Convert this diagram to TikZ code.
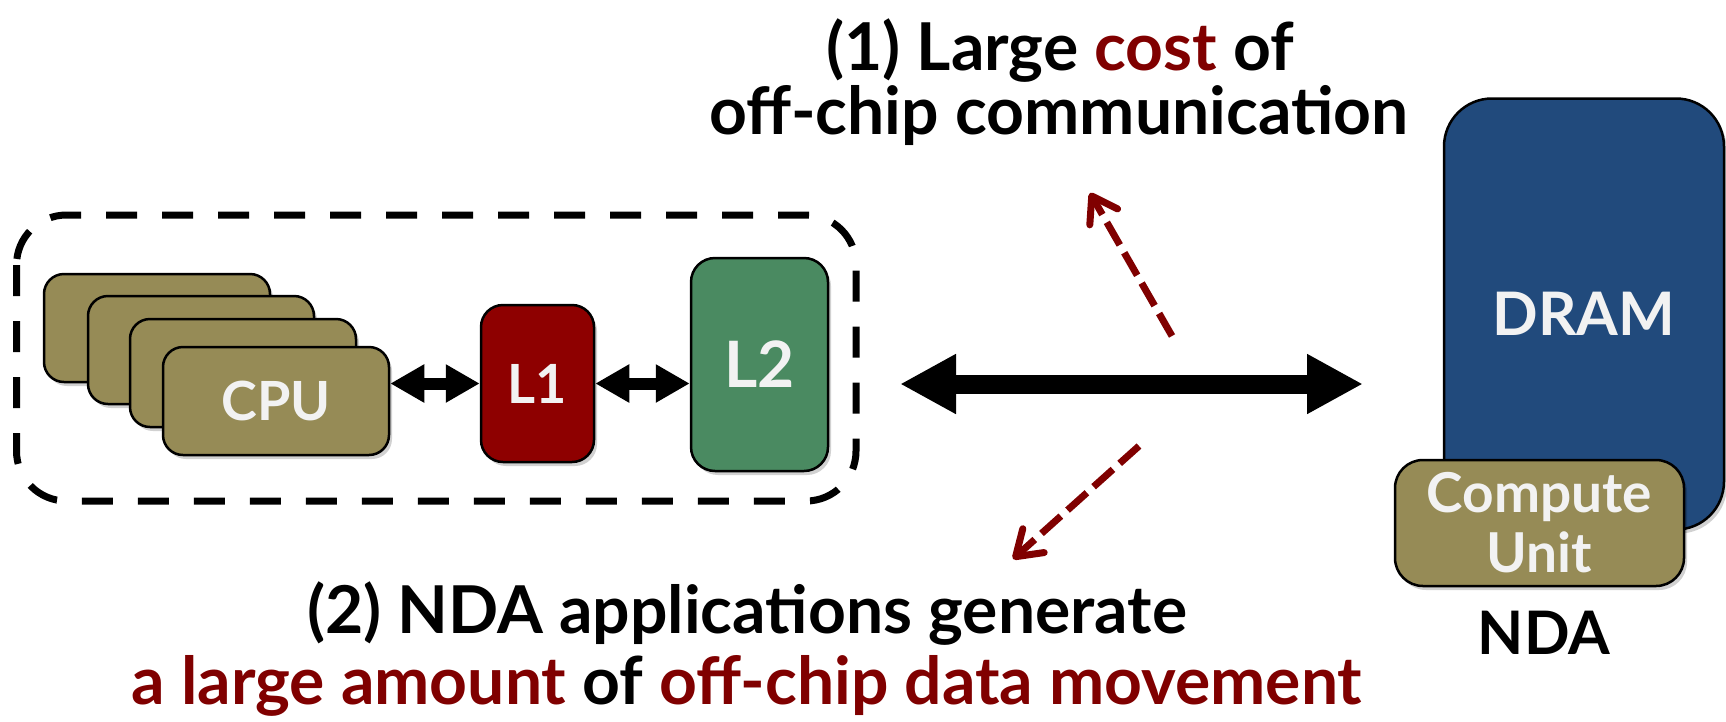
\documentclass[tikz,border=0pt]{standalone}
\usepackage{fontspec}
\setmainfont{Lato}
\usetikzlibrary{arrows.meta,shadows}
\definecolor{dred}{RGB}{128,0,0}
\definecolor{lonered}{RGB}{142,0,0}
\definecolor{ltwogreen}{RGB}{74,138,97}
\definecolor{olivebox}{RGB}{150,139,86}
\definecolor{dramblue}{RGB}{33,74,124}
\definecolor{offwhite}{RGB}{242,242,242}
\begin{document}
\begin{tikzpicture}[x=1pt,y=-1pt,
  shadowed/.style={drop shadow={shadow xshift=3pt,shadow yshift=-4pt,opacity=0.18,fill=black}},
  unit/.style={draw=black,line width=2.5pt,shadowed,inner sep=0pt,text=offwhite},
  cpubox/.style={unit,fill=olivebox,minimum width=226pt,minimum height=108pt,rounded corners=20pt},
  boxfont/.style={font=\bfseries\fontsize{54}{60}\selectfont},
  textline/.style={font=\bfseries\fontsize{66}{72}\selectfont,anchor=base,inner sep=0pt},
  smallarrow/.style={line width=12pt,{Triangle[length=34pt,width=36pt]}-{Triangle[length=34pt,width=36pt]}},
  bigarrow/.style={line width=19pt,{Triangle[length=56pt,width=56pt]}-{Triangle[length=56pt,width=56pt]}},
  hint/.style={draw=dred,line width=7pt,dash pattern=on 26pt off 9pt,-{Straight Barb[length=24pt,width=32pt,round]}}
]
\useasboundingbox (0,0) rectangle (1726,721);

% grouping frame
\draw[line width=7pt,dash pattern=on 31pt off 25pt,rounded corners=50pt] (16.5,215) rectangle (856,501);

% CPU stack
\node[cpubox] (cpu1) at (157,328) {};
\node[cpubox] (cpu2) at (201,350) {};
\node[cpubox] (cpu3) at (243,373) {};
\node[cpubox,boxfont] (cpu4) at (276,401) {CPU};

% caches
\node[unit,fill=lonered,minimum width=113pt,minimum height=157pt,rounded corners=22pt,boxfont] (l1) at (537.5,383.5) {L1};
\node[unit,fill=ltwogreen,minimum width=137pt,minimum height=213pt,rounded corners=24pt,font=\bfseries\fontsize{64}{70}\selectfont] (l2) at (759.5,364.5) {L2};

\draw[smallarrow] (l1.west -| cpu4.east) -- (l1.west);
\draw[smallarrow] (l1.east) -- (l1.east -| l2.west);

% NDA
\node[unit,fill=dramblue,minimum width=280pt,minimum height=431pt,rounded corners=48pt,font=\bfseries\fontsize{60}{66}\selectfont] (dram) at (1584,314) {DRAM};
\node[unit,fill=olivebox,minimum width=289pt,minimum height=126pt,rounded corners=28pt,align=center,font=\bfseries\fontsize{55}{60}\selectfont] (cu) at (1539.5,523) {Compute\\Unit};
\node[textline,font=\bfseries\fontsize{60}{66}\selectfont] (nda) at (1544,654) {NDA};

% off-chip link
\coordinate (bigL) at (900,384);
\coordinate (bigR) at (1363,384);
\draw[bigarrow] (bigL) -- (bigR);

\coordinate (u1) at (1172,336);
\coordinate (u2) at (1090,193);
\coordinate (d1) at (1139,446);
\coordinate (d2) at (1013,559);
\draw[hint] (u1) -- (u2);
\draw[hint] (d1) -- (d2);

% texts
\node[textline] (title1) at (1060,70) {(1) Large \textcolor{dred}{cost} of};
\node[textline] (title2) at (1059,134) {off-chip communication};
\node[textline] (bot1) at (747,633) {(2) NDA applications generate};
\node[textline] (bot2) at (747,704) {\textcolor{dred}{a large amount} of \textcolor{dred}{off-chip data movement}};
\end{tikzpicture}
\end{document}
